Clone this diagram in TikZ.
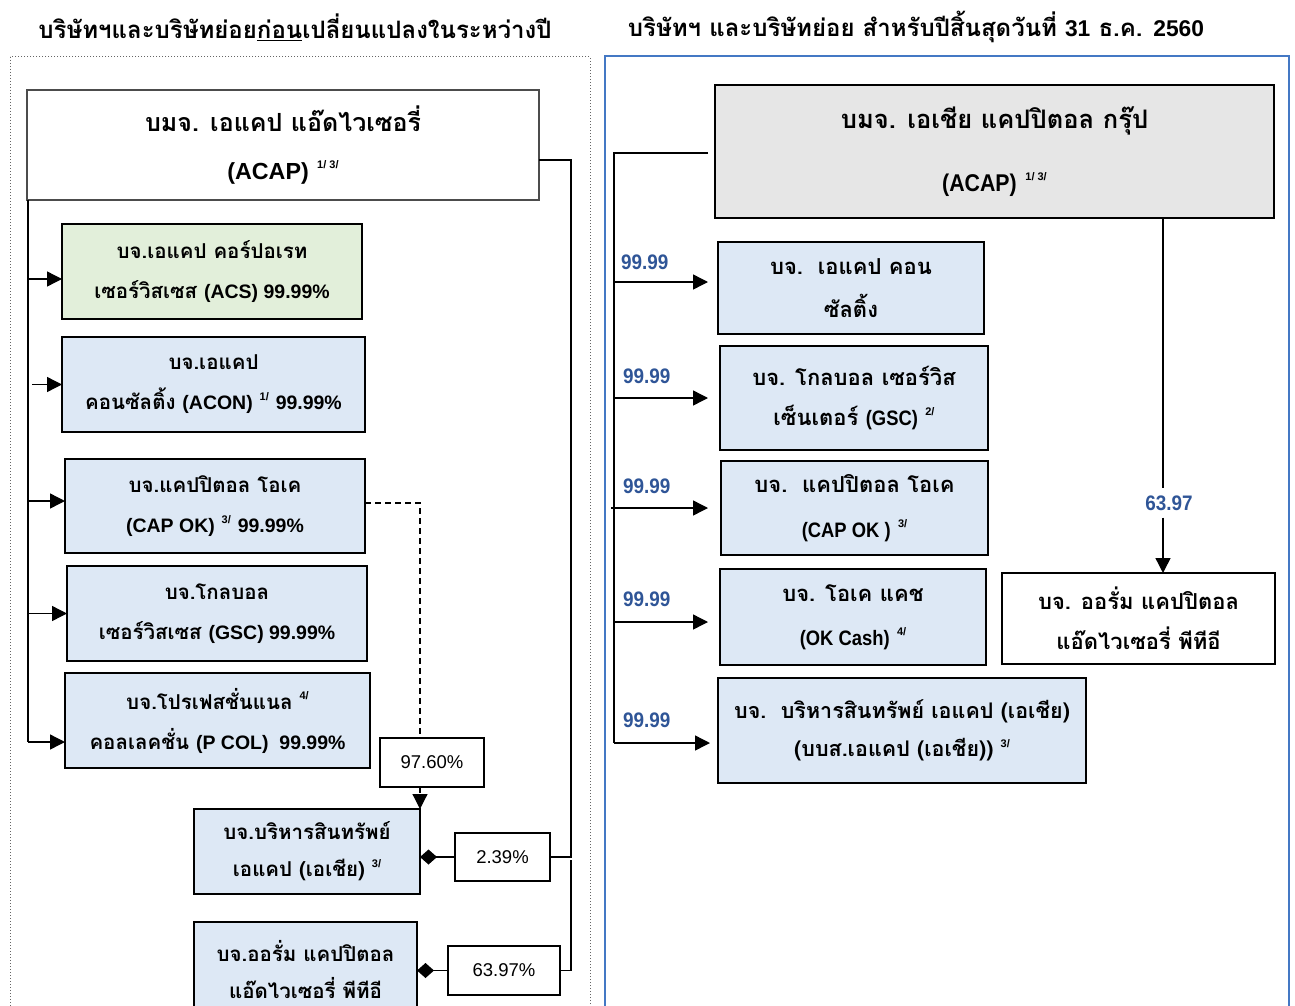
\documentclass[tikz,border=0pt]{standalone}
\usepackage{fontspec}
\usepackage{graphicx}
\setmainfont{Liberation Sans}
\newfontfamily\thf[Script=Thai]{Loma}
\newfontfamily\laf[Scale=0.95]{Liberation Sans}
\newfontfamily\pf{Liberation Sans}
\usetikzlibrary{arrows.meta}
\definecolor{boxblue}{RGB}{221,232,245}
\definecolor{boxgreen}{RGB}{226,239,218}
\definecolor{boxgray}{RGB}{230,230,230}
\definecolor{labblue}{RGB}{47,85,151}
\definecolor{framblue}{RGB}{68,120,196}
\newcommand{\la}[1]{{\laf\bfseries #1}}
\newcommand{\nla}[1]{\scalebox{0.88}[1]{\laf\bfseries #1}}
\newcommand{\sups}[1]{\raisebox{0.85ex}{\pf\bfseries\fontsize{11}{11}\selectfont #1}}
\tikzset{
  cbox/.style={draw=black, line width=1.6pt, inner sep=0pt, outer sep=0pt, align=center,
    font=\thf\bfseries\fontsize{20.5}{40}\selectfont},
  bluebox/.style={cbox, fill=boxblue},
  pbox/.style={draw=black, line width=1.4pt, inner sep=0pt, outer sep=0pt,
    font=\pf\fontsize{18.5}{20}\selectfont},
  conn/.style={line width=1.4pt},
  arr/.style={line width=1.4pt, -{Triangle[length=15pt,width=15pt]}},
  darr/.style={line width=1.2pt, dash pattern=on 6pt off 4pt, -{Triangle[length=15pt,width=15pt]}},
  dia/.style={line width=1.4pt, -{Diamond[length=17pt,width=15pt]}},
  pct/.style={text=labblue, font=\pf\bfseries\fontsize{21}{22}\selectfont, inner sep=2pt},
  ttl/.style={font=\thf\bfseries\fontsize{24}{26}\selectfont, inner sep=0pt}
}
\begin{document}
\begin{tikzpicture}[x=1pt,y=-1pt]
\useasboundingbox (0,0) rectangle (1295,1006);
\fill[white] (0,0) rectangle (1295,1006);
% frames
\draw[gray!80!black, dotted, line width=1pt] (10,57) rectangle (590,1040);
\draw[framblue, line width=2pt] (605,56) rectangle (1289,1040);
% titles
\node[ttl] (t1) at (295,27) {บริษัทฯและบริษัทย่อย\underline{ก่อน}เปลี่ยนแปลงในระหว่างปี};
\node[ttl] (t2) at (916,27) {บริษัทฯ และบริษัทย่อย สำหรับปีสิ้นสุดวันที่ \la{31} ธ.ค. \la{2560}};
% ---------- left ----------
\node[cbox, draw=black!70, line width=1.4pt, fill=white, minimum width=512pt, minimum height=110pt,
  font=\thf\bfseries\fontsize{25}{48}\selectfont] (acap1) at (283,145)
  {บมจ. เอแคป แอ๊ดไวเซอรี่\\ \la{\fontsize{24.5}{48}\selectfont(ACAP)} \sups{1/ 3/}};
\node[cbox, fill=boxgreen, minimum width=300pt, minimum height=95pt] (acs) at (212,271.5)
  {บจ.เอแคป คอร์ปอเรท\\เซอร์วิสเซส \la{(ACS) 99.99\%}};
\node[bluebox, minimum width=303pt, minimum height=95pt] (acon) at (213.5,384.5)
  {บจ.เอแคป\\คอนซัลติ้ง \la{(ACON)} \sups{1/} \la{99.99\%}};
\node[bluebox, minimum width=300pt, minimum height=94pt] (capok) at (215,506)
  {บจ.แคปปิตอล โอเค\\ \la{(CAP OK)} \sups{3/} \la{99.99\%}};
\node[bluebox, minimum width=300pt, minimum height=95pt] (gsc) at (217,613.5)
  {บจ.โกลบอล\\เซอร์วิสเซส \la{(GSC) 99.99\%}};
\node[bluebox, minimum width=305pt, minimum height=95pt] (pcol) at (217.5,720.5)
  {บจ.โปรเฟสชั่นแนล \sups{4/}\\คอลเลคชั่น \la{(P COL)\ \ 99.99\%}};
\node[pbox, minimum width=104pt, minimum height=49pt] (p976) at (432,762.5) {97.60\%};
\node[bluebox, minimum width=226pt, minimum height=85pt, font=\thf\bfseries\fontsize{20.5}{37}\selectfont] (amc) at (307,851.5)
  {บจ.บริหารสินทรัพย์\\เอแคป (เอเชีย) \sups{3/}};
\node[pbox, minimum width=95pt, minimum height=48pt] (p239) at (502.5,857) {2.39\%};
\node[bluebox, minimum width=223pt, minimum height=96pt, font=\thf\bfseries\fontsize{20.5}{37}\selectfont] (aurum) at (305.5,970)
  {บจ.ออรั่ม แคปปิตอล\\แอ๊ดไวเซอรี่ พีทีอี};
\node[pbox, minimum width=112pt, minimum height=49pt] (p6397) at (504,970.5) {63.97\%};
% left connectors
\coordinate (lx) at (28,0);
\draw[conn] (lx |- acap1.south) -- ([yshift=-21.5pt]lx |- pcol.west);
\draw[arr] ([yshift=-7.5pt]lx |- acs.west) -- ([yshift=-7.5pt]acs.west);
\draw[arr] ([xshift=4pt]lx |- acon.west) -- (acon.west);
\draw[arr] ([yshift=5pt]lx |- capok.west) -- ([yshift=5pt]capok.west);
\draw[arr] (lx |- gsc.west) -- (gsc.west);
\draw[arr] ([yshift=-21.5pt]lx |- pcol.west) -- ([yshift=-21.5pt]pcol.west);
\coordinate (dxl) at (420,0);
\draw[line width=1.2pt, dash pattern=on 6pt off 4pt] ([yshift=3pt]capok.east) -- ([yshift=3pt]dxl |- capok.east) -- (dxl |- p976.north);
\draw[darr] (dxl |- p976.south) -- (amc.north east);
\coordinate (jx) at (571,0);
\draw[conn] ([yshift=-15pt]acap1.east) -- ([yshift=-15pt]jx |- acap1.east) -- (jx |- p239.east) -- (p239.east);
\draw[conn] ([yshift=-3pt]jx |- p239.east) -- (jx |- p6397.east) -- (p6397.east);
\draw[dia] (p239.west) -- (amc.east |- p239.west);
\draw[dia] (p6397.west) -- (aurum.east |- p6397.west);
% ---------- right ----------
\node[cbox, fill=boxgray, minimum width=559pt, minimum height=133pt,
  font=\thf\bfseries\fontsize{25.5}{63}\selectfont] (acap2) at (994.5,151.5)
  {บมจ. เอเชีย แคปปิตอล กรุ๊ป\\ \nla{\fontsize{25.5}{63}\selectfont(ACAP)} \sups{1/ 3/}};
\node[bluebox, minimum width=266pt, minimum height=92pt, font=\thf\bfseries\fontsize{22}{43}\selectfont] (acon2) at (851,288)
  {บจ.\ \ เอแคป คอน\\ซัลติ้ง};
\node[bluebox, minimum width=268pt, minimum height=104pt, font=\thf\bfseries\fontsize{22}{40}\selectfont] (gsc2) at (854,398)
  {บจ. โกลบอล เซอร์วิส\\เซ็นเตอร์ \nla{(GSC)} \sups{2/}};
\node[bluebox, minimum width=267pt, minimum height=94pt, font=\thf\bfseries\fontsize{22}{45}\selectfont] (capok2) at (854.5,508)
  {บจ.\ \ แคปปิตอล โอเค\\ \nla{(CAP OK )} \sups{3/}};
\node[bluebox, minimum width=266pt, minimum height=96pt, font=\thf\bfseries\fontsize{22}{44}\selectfont] (okc) at (853,617)
  {บจ. โอเค แคช\\ \nla{(OK Cash)} \sups{4/}};
\node[bluebox, minimum width=368pt, minimum height=105pt, font=\thf\bfseries\fontsize{21.5}{38}\selectfont] (amc2) at (902,730.5)
  {บจ.\ \ บริหารสินทรัพย์ เอแคป (เอเชีย)\\(บบส.เอแคป (เอเชีย)) \sups{3/}};
\node[cbox, fill=white, minimum width=273pt, minimum height=91pt, font=\thf\bfseries\fontsize{22}{40}\selectfont] (aurum2) at (1138.5,618.5)
  {บจ. ออรั่ม แคปปิตอล\\แอ๊ดไวเซอรี่ พีทีอี};
% right labels
\node[pct, anchor=west] (l1) at (619,262) {\scalebox{0.9}[1]{99.99}};
\node[pct, anchor=west] (l2) at (621,376) {\scalebox{0.9}[1]{99.99}};
\node[pct, anchor=west] (l3) at (621,486) {\scalebox{0.9}[1]{99.99}};
\node[pct, anchor=west] (l4) at (621,599) {\scalebox{0.9}[1]{99.99}};
\node[pct, anchor=west] (l5) at (621,720) {\scalebox{0.9}[1]{99.99}};
\node[pct, inner sep=7pt] (l6) at (1169,503) {\scalebox{0.9}[1]{63.97}};
% right connectors
\coordinate (rx) at (614,0);
\draw[conn] ([xshift=-7pt,yshift=-1.5pt]acap2.west) -- ([yshift=-1.5pt]rx |- acap2.west) -- ([yshift=-12.5pt]rx |- amc2.west);
\draw[arr] ([yshift=6pt]rx |- acon2.west) -- ([xshift=-10pt,yshift=6pt]acon2.west);
\draw[arr] (rx |- gsc2.west) -- ([xshift=-12pt]gsc2.west);
\draw[arr] ([xshift=-3pt]rx |- capok2.west) -- ([xshift=-13pt]capok2.west);
\draw[arr] ([yshift=-5pt]rx |- okc.west) -- ([xshift=-12pt,yshift=-5pt]okc.west);
\draw[arr] ([yshift=-12.5pt]rx |- amc2.west) -- ([xshift=-8pt,yshift=-12.5pt]amc2.west);
\coordinate (dx) at (1163,0);
\draw[conn] (dx |- acap2.south) -- (dx |- l6.north);
\draw[arr] (dx |- l6.south) -- (dx |- aurum2.north);
\end{tikzpicture}
\end{document}
